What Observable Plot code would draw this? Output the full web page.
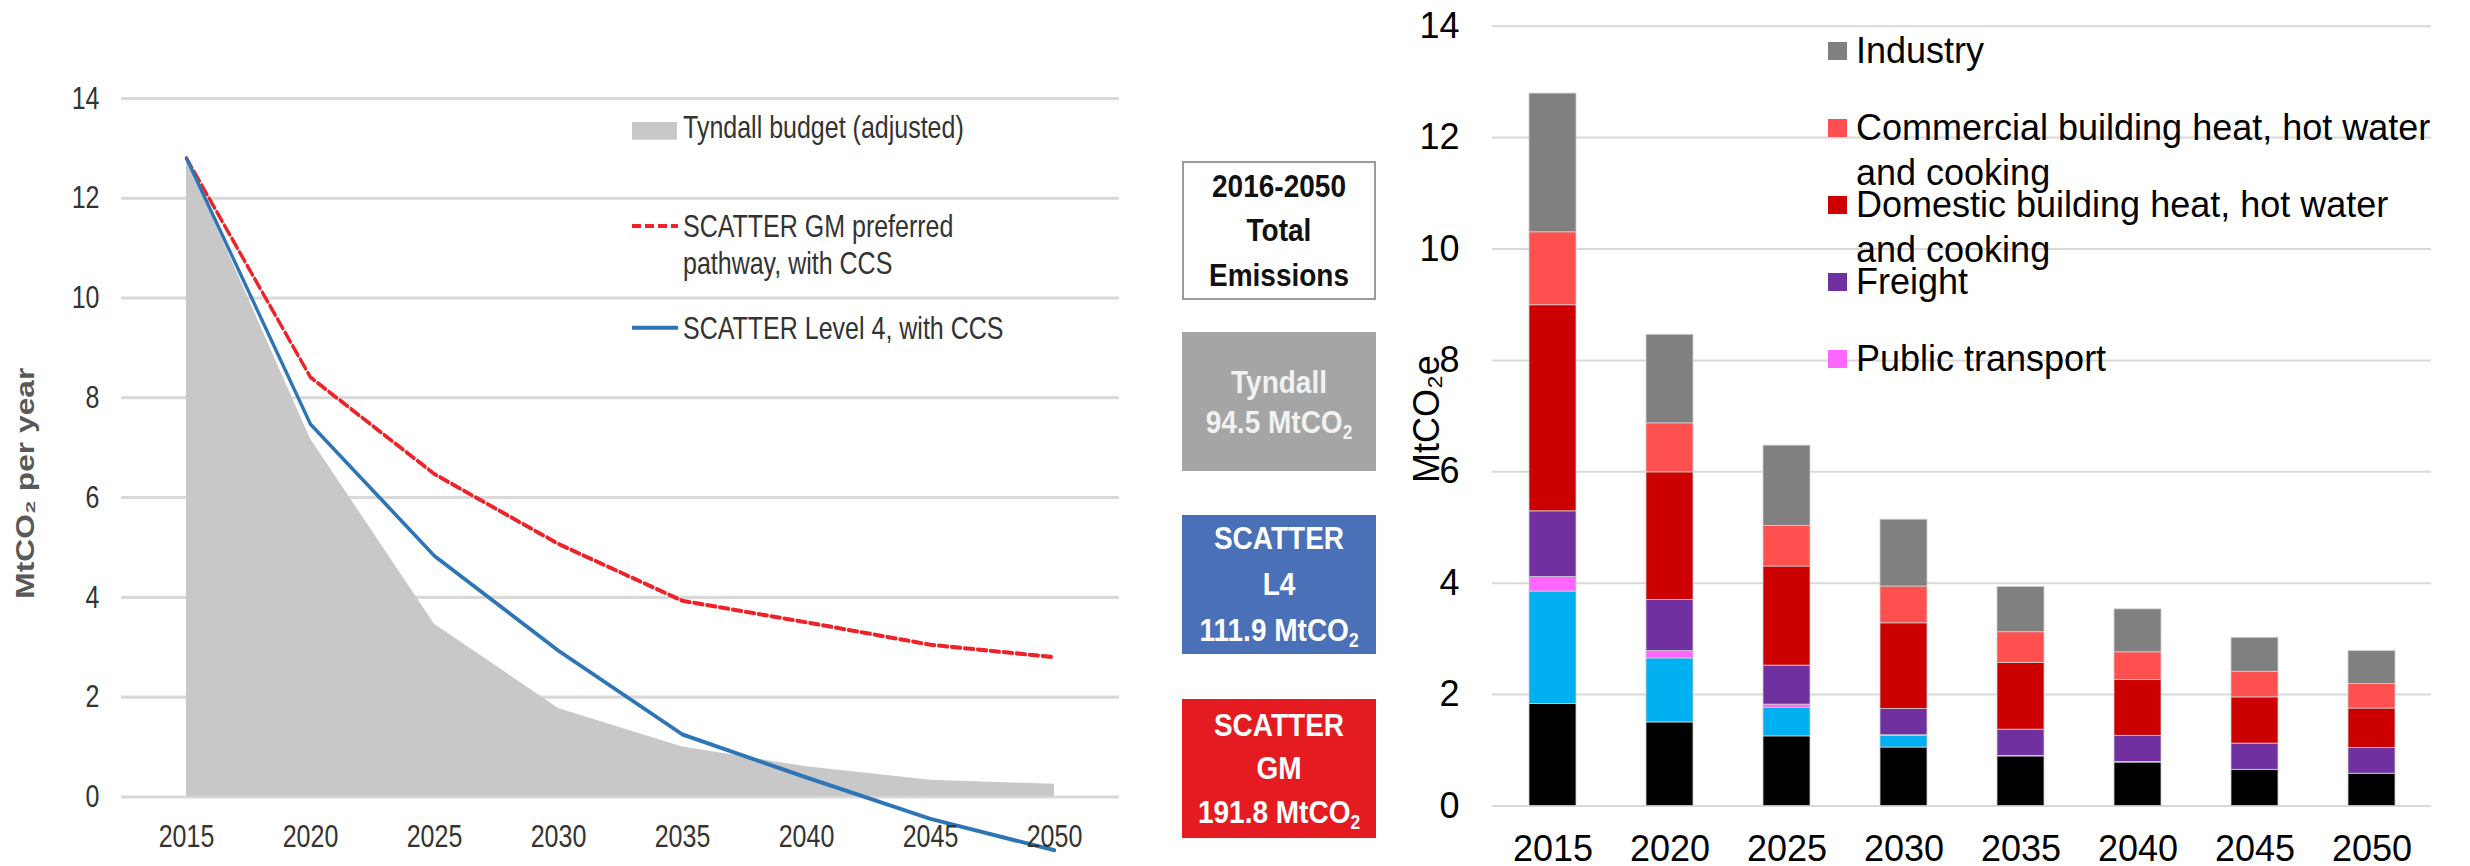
<!DOCTYPE html>
<html>
<head>
<meta charset="utf-8">
<script src="https://cdn.jsdelivr.net/npm/d3@7"></script>
<script src="https://cdn.jsdelivr.net/npm/@observablehq/plot@0.6"></script>
<style>
  html, body { margin: 0; padding: 0; background: #fff; }
  body { width: 2470px; height: 866px; overflow: hidden; position: relative; font-family: "Liberation Sans", Arial, sans-serif; }
  .abs { position: absolute; }
  #leftWrap { left: 0; top: 0; width: 1130px; height: 682px; transform: scaleY(1.27); transform-origin: 0 0; }
  .lleg { position: absolute; font-size: 25px; line-height: 28.5px; color: #333; white-space: nowrap; }
  .box { position: absolute; left: 1182px; width: 194px; box-sizing: border-box; display: flex; align-items: center; justify-content: center; text-align: center; font-weight: bold; font-size: 28px; }
  .box .inner { transform: scaleY(1.15); }
  .box sub { font-size: 0.62em; vertical-align: -0.28em; line-height: 0; }
  .rleg { position: absolute; left: 1828px; font-size: 36px; line-height: 45px; color: #000; white-space: nowrap; }
  .rleg .sw { position: absolute; left: 0; top: 13.5px; width: 18.5px; height: 18.5px; }
  .rleg .tx { position: absolute; left: 28px; top: 0; }
</style>
</head>
<body>
<div id="leftWrap" class="abs"></div>
<div id="boxes"></div>
<div id="right" class="abs" style="left:1380px; top:0;"></div>
<div id="rightLegend"></div>
<script>
// ---------- data ----------
const years = ["2015", "2020", "2025", "2030", "2035", "2040", "2045", "2050"];
const yTicks = [0, 2, 4, 6, 8, 10, 12, 14];

// left chart (MtCO2 per year)
const tyndallBudget = [12.8, 7.17, 3.46, 1.77, 1.0, 0.6, 0.33, 0.25];
const scatterGM = [12.8, 8.41, 6.47, 5.07, 3.93, 3.5, 3.05, 2.8];
const scatterL4 = [12.8, 7.47, 4.83, 2.93, 1.25, 0.39, -0.44, -1.07];

// total emissions boxes
const boxTitle = ["2016-2050", "Total", "Emissions"];
const boxNames = [["Tyndall"], ["SCATTER", "L4"], ["SCATTER", "GM"]];
const boxTotals = ["94.5", "111.9", "191.8"];

// right chart (MtCO2e), stacked bottom to top
const seriesNames = ["Unlabelled (black)", "Unlabelled (blue)", "Public transport", "Freight",
  "Domestic building heat, hot water and cooking", "Commercial building heat, hot water and cooking", "Industry"];
const seriesColors = ["#000000", "#00b0f0", "#ff66ff", "#7030a0", "#cc0000", "#ff5050", "#808080"];
const black = [1.83, 1.50, 1.25, 1.05, 0.89, 0.78, 0.65, 0.58];
const cyan = [2.02, 1.15, 0.51, 0.21, 0.01, 0.01, 0, 0];
const publicTransport = [0.26, 0.13, 0.06, 0.01, 0, 0, 0, 0];
const freight = [1.18, 0.92, 0.70, 0.47, 0.47, 0.47, 0.47, 0.46];
const domestic = [3.70, 2.29, 1.78, 1.54, 1.20, 1.00, 0.83, 0.71];
const commercial = [1.31, 0.88, 0.73, 0.66, 0.55, 0.50, 0.46, 0.44];
const industry = [2.49, 1.59, 1.44, 1.20, 0.81, 0.77, 0.61, 0.59];
const legendNames = ["Industry", "Commercial building heat, hot water\nand cooking",
  "Domestic building heat, hot water\nand cooking", "Freight", "Public transport"];
const legendColors = ["#808080", "#ff5050", "#cc0000", "#7030a0", "#ff66ff"];

const FONT = "'Liberation Sans', Arial, sans-serif";

// ---------- left chart ----------
const leftRows = years.map((y, i) => ({year: y, tyndall: tyndallBudget[i], gm: scatterGM[i], l4: scatterL4[i]}));
const left = Plot.plot({
  width: 1130, height: 682,
  marginLeft: 121, marginRight: 11, marginTop: 77, marginBottom: 55,
  x: {type: "point", domain: years, padding: 0.5},
  y: {domain: [0, 14]},
  style: {fontFamily: FONT, fontSize: "25px", color: "#333", background: "transparent", overflow: "visible"},
  marks: [
    Plot.ruleY(yTicks, {stroke: "#d9d9d9", strokeWidth: 2.4}),
    Plot.areaY(leftRows, {x: "year", y: "tyndall", fill: "#c8c8c8"}),
    Plot.line(leftRows, {x: "year", y: "gm", stroke: "#ee2229", strokeWidth: 3.2, strokeDasharray: "9,4"}),
    Plot.line(leftRows, {x: "year", y: "l4", stroke: "#2e75b6", strokeWidth: 3.2}),
    Plot.axisY({ticks: yTicks, tickSize: 0, tickPadding: 22, label: null, fill: "#333"}),
    Plot.axisX({tickSize: 0, tickPadding: 22, label: null, fill: "#333"}),
    Plot.text(["MtCO₂ per year"], {text: d => d, frameAnchor: "left", textAnchor: "middle", rotate: -90, dx: -96, dy: 28,
      fontWeight: "bold", fontSize: 25, fill: "#595959"})
  ]
});
const leftWrap = document.getElementById("leftWrap");
leftWrap.appendChild(left);

// left legend (unstretched coordinates inside the scaled wrapper)
function addLeftLegend(html, top) {
  const d = document.createElement("div");
  d.className = "lleg";
  d.style.left = "632px";
  d.style.top = top + "px";
  d.innerHTML = html;
  leftWrap.appendChild(d);
}
addLeftLegend(`<span style="display:inline-block;width:45px;height:13.5px;background:#c8c8c8;vertical-align:-1px;margin-right:6px"></span>Tyndall budget (adjusted)`, 99.8 - 14.25);
addLeftLegend(`<svg width="46" height="10" style="vertical-align:4px;margin-right:5px"><line x1="0" x2="46" y1="5" y2="5" stroke="#ee2229" stroke-width="3.2" stroke-dasharray="9,4"/></svg>SCATTER GM preferred<br><span style="margin-left:51px">pathway, with CCS</span>`, 178.7 - 14.25);
addLeftLegend(`<svg width="46" height="10" style="vertical-align:4px;margin-right:5px"><line x1="0" x2="46" y1="5" y2="5" stroke="#2e75b6" stroke-width="3.2"/></svg>SCATTER Level 4, with CCS`, 258.3 - 14.25);

// ---------- boxes ----------
const boxes = document.getElementById("boxes");
function addBox(top, height, style, lines, lh) {
  const d = document.createElement("div");
  d.className = "box";
  d.style.top = top + "px";
  d.style.height = height + "px";
  Object.assign(d.style, style);
  d.innerHTML = `<div class="inner" style="line-height:${lh}px">${lines.join("<br>")}</div>`;
  boxes.appendChild(d);
}
addBox(161, 139, {border: "2px solid #9a9a9a", background: "#fff", color: "#111"}, boxTitle, 39);
const boxStyles = [
  {background: "#a5a5a5", color: "#f2f2f2"},
  {background: "#4a70b7", color: "#fff"},
  {background: "#e41c22", color: "#fff"}
];
const boxTops = [332, 515, 699];
const boxLH = [35, 40, 38];
boxNames.forEach((names, i) => {
  addBox(boxTops[i], 139, boxStyles[i], [...names, `${boxTotals[i]} MtCO<sub>2</sub>`], boxLH[i]);
});

// ---------- right chart ----------
const seriesValues = [black, cyan, publicTransport, freight, domestic, commercial, industry];
const stackRows = [];
years.forEach((y, i) => {
  seriesNames.forEach((s, k) => {
    const v = seriesValues[k][i];
    if (v > 0) stackRows.push({year: y, series: s, value: v});
  });
});
const right = Plot.plot({
  width: 1090, height: 866,
  marginLeft: 112, marginRight: 39, marginTop: 25.7, marginBottom: 60.5,
  x: {type: "band", domain: years, paddingInner: 0.6, paddingOuter: 0.3},
  y: {domain: [0, 14]},
  color: {domain: seriesNames, range: seriesColors},
  style: {fontFamily: FONT, fontSize: "36px", color: "#000", background: "transparent", overflow: "visible"},
  marks: [
    Plot.ruleY(yTicks, {stroke: "#d9d9d9", strokeWidth: 2}),
    Plot.barY(stackRows, {x: "year", y: "value", fill: "series", stroke: "#cfcfcf", strokeWidth: 0.8}),
    Plot.axisY({ticks: yTicks, tickSize: 0, tickPadding: 33, label: null, fill: "#000"}),
    Plot.axisX({tickSize: 0, tickPadding: 29, label: null, fill: "#000"}),
    Plot.text(["MtCO₂e"], {text: d => d, frameAnchor: "left", textAnchor: "middle", rotate: -90, dx: -65, dy: 3, fontSize: 36, fill: "#000"})
  ]
});
document.getElementById("right").appendChild(right);

// right legend
const rl = document.getElementById("rightLegend");
legendNames.forEach((name, i) => {
  const d = document.createElement("div");
  d.className = "rleg";
  d.style.top = (50.5 + i * 77 - 22.5) + "px";
  d.innerHTML = `<div class="sw" style="background:${legendColors[i]}"></div><div class="tx">${name.replace("\n", "<br>")}</div>`;
  rl.appendChild(d);
});
</script>
</body>
</html>
